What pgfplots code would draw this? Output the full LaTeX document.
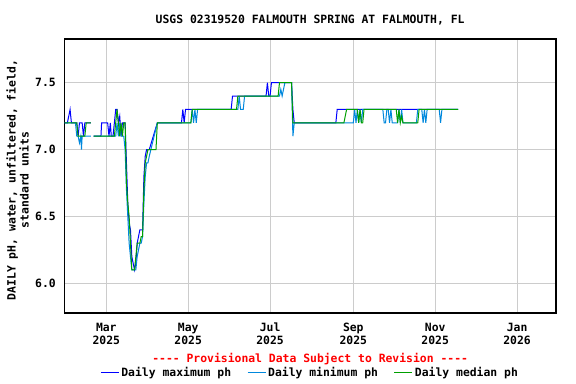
\documentclass[border=0pt]{standalone}
\usepackage{fontspec}
\setmainfont{DejaVu Sans Mono}
\usepackage{pgfplots}
\pgfplotsset{compat=1.18}
\definecolor{cmax}{RGB}{0,0,255}
\definecolor{cmin}{RGB}{0,136,221}
\definecolor{cmed}{RGB}{0,160,0}
\definecolor{gridgray}{RGB}{204,204,204}
\begin{document}
\fontsize{11.4bp}{13bp}\selectfont\bfseries
\begin{tikzpicture}
\path[use as bounding box] (-64.3bp,-71bp) rectangle (511.7bp,313bp);
\begin{axis}[
  at={(0,0)}, anchor=south west,
  scale only axis, width=491.7bp, height=274bp,
  xmin=27.7, xmax=394, ymin=5.778, ymax=7.827,
  xtick={59,120,181,243,304,365},
  xticklabels={{Mar\\2025},{May\\2025},{Jul\\2025},{Sep\\2025},{Nov\\2025},{Jan\\2026}},
  xticklabel style={align=center, yshift=-6bp},
  ytick={6.0,6.5,7.0,7.5},
  yticklabel style={xshift=-4.5bp, /pgf/number format/fixed, /pgf/number format/fixed zerofill, /pgf/number format/precision=1},
  /pgf/number format/assume math mode=true,
  major tick length=0pt,
  grid=major, grid style={gridgray, line width=1bp},
  axis line style={black, line width=1.2bp},
  clip=true, clip mode=individual,
  unbounded coords=jump,
  ylabel={DAILY pH, water, unfiltered, field,\\standard units},
  ylabel style={align=center, at={(axis description cs:-0.0952,0.485)}, anchor=center},
  legend style={at={(0.5,0)}, anchor=center, yshift=-59.7bp, draw=none, fill=none,
    legend columns=3, inner sep=0pt,
    /tikz/every even column/.append style={column sep=14bp}},
  legend image code/.code={\draw[#1] (0bp,0bp) -- (18bp,0bp);},
  every axis plot/.append style={line width=1bp},
]
\addplot[cmax] coordinates {
(28,7.2) (30,7.2) (31,7.25) (32,7.3) (33,7.2) (37,7.2) (38,7.1) (39,7.2) (41,7.2) (42,7.1) (43,7.2) (47.5,7.2)
(48.5,nan)
(49.5,7.1) (55,7.1) (55.5,7.2) (60,7.2) (61,7.1) (62,7.2) (62.7,7.1) (64,7.1) (65,7.2) (66,7.3) (67,7.3) (68,7.2) (69,7.25) (70,7.1) (71,7.2) (73,7.2)
(74,6.9) (75,6.6) (76,6.45) (77,6.4) (78,6.2) (79,6.15) (80,6.1) (81,6.15) (82,6.3) (83,6.35) (84,6.4) (86,6.4) (87,6.8) (88,6.95) (89,7.0) (91,7.0) (94,7.1) (97,7.2)
(115,7.2) (116,7.3) (117,7.2) (118,7.3) (152,7.3) (153,7.4) (178,7.4) (179,7.5) (180,7.4) (181,7.4) (182,7.5) (197,7.5) (198,7.3) (199,7.2)
(230,7.2) (231,7.3) (321,7.3)
};
\addlegendentry{Daily maximum ph}
\addplot[cmin] coordinates {
(28,7.2) (36,7.2) (37,7.1) (38,7.1) (39,7.05) (40,7.1) (40.5,7.0) (41,7.1) (47.5,7.1)
(48.5,nan)
(49.5,7.1) (66,7.1) (67,7.2) (68,7.1) (69,7.2) (70,7.1) (72,7.1)
(73,7.0) (74,6.7) (75,6.5) (76,6.3) (77,6.2) (78,6.1) (81,6.1) (82,6.2) (83,6.25) (84,6.3) (85,6.3) (86,6.35) (87,6.6) (88,6.8) (89,6.9) (90,6.9) (91,6.95) (97,7.2)
(122,7.2) (123,7.3) (124,7.2) (125,7.3) (126,7.2) (127,7.3) (157,7.3) (158,7.4) (159,7.3) (161,7.3) (162,7.4)
(188,7.4) (189,7.45) (190,7.4) (191,7.45) (192,7.5) (197,7.5) (198,7.1) (199,7.2)
(243,7.2) (244,7.3) (245,7.2) (246,7.3) (247,7.2) (248,7.3) (249,7.2) (250,7.3)
(265,7.3) (266,7.2) (267,7.2) (268,7.3) (269,7.3) (270,7.2) (271,7.3) (272,7.2) (276,7.2) (277,7.3) (278,7.2) (279,7.3) (280,7.2)
(290,7.2) (291,7.3) (294,7.3) (295,7.2) (296,7.3) (297,7.2) (298,7.3) (307,7.3) (308,7.2) (309,7.3) (321,7.3)
};
\addlegendentry{Daily minimum ph}
\addplot[cmed] coordinates {
(28,7.2) (37,7.2) (38,7.1) (43,7.1) (44,7.2) (47.5,7.2)
(48.5,nan)
(49.5,7.1) (65,7.1) (66,7.2) (67,7.3) (68,7.2) (69,7.1) (70,7.2) (71,7.1) (72,7.2) (73,7.2)
(74,6.75) (75,6.6) (76,6.5) (77,6.3) (78,6.1) (80,6.1) (81,6.2) (82,6.3) (84,6.3) (85,6.35) (86,6.35) (87,6.7) (88,6.9) (89,6.95) (90,7.0) (96,7.0) (97,7.2)
(122,7.2) (123,7.3) (156,7.3) (157,7.4) (187,7.4) (188,7.5) (197,7.5) (198,7.2)
(236,7.2) (237,7.25) (238,7.3) (246,7.3) (247,7.2) (248,7.3) (249,7.2) (250,7.2) (251,7.3)
(275,7.3) (276,7.2) (277,7.3) (278,7.2) (279,7.25) (280,7.2) (291,7.2) (292,7.3) (321,7.3)
};
\addlegendentry{Daily median ph}
\end{axis}
\node[anchor=center] at (245.85bp,292.5bp) {USGS 02319520 FALMOUTH SPRING AT FALMOUTH, FL};
\node[anchor=center, text=red] at (245.85bp,-45.7bp) {-{}-{}-{}- Provisional Data Subject to Revision -{}-{}-{}-};
\end{tikzpicture}
\end{document}
